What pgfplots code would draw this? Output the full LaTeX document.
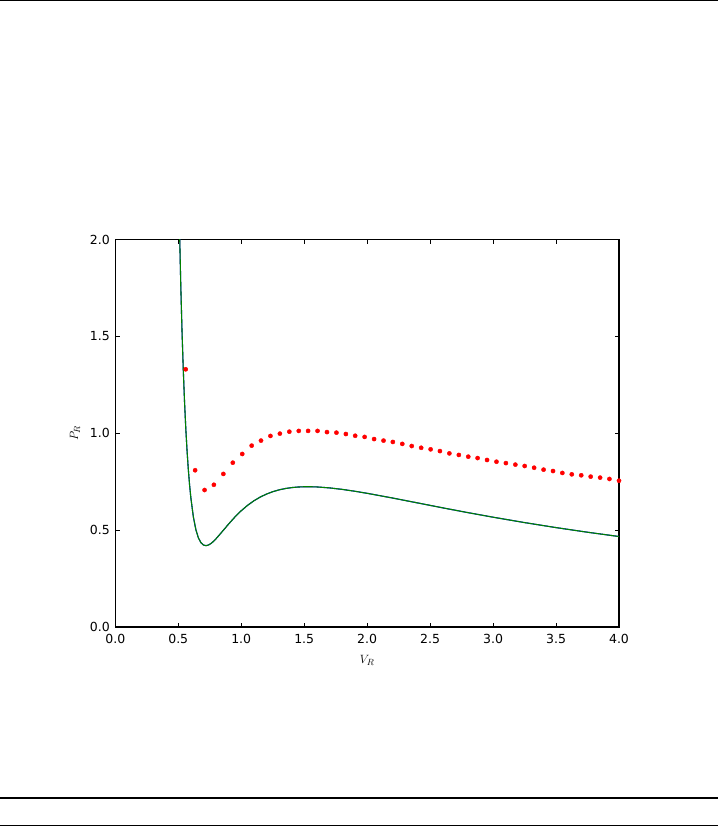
\documentclass[border=0pt]{standalone}
\usepackage{fontspec}
\setmainfont{DejaVu Sans}
\usepackage{pgfplots}
\pgfplotsset{compat=1.18}
\definecolor{mplblue}{rgb}{0,0,1}
\definecolor{mplgreen}{rgb}{0,0.5,0}
\definecolor{mplred}{rgb}{1,0,0}
\begin{document}
\begin{tikzpicture}[x=1pt,y=1pt]
\useasboundingbox (0,0) rectangle (718,827);
\draw[line width=1.2pt] (0,826.4) -- (718,826.4);
\draw[line width=1.2pt] (0,29) -- (718,29);
\draw[line width=1.2pt] (0,1.2) -- (718,1.2);
\begin{axis}[
  at={(115.3pt,200pt)}, anchor=south west,
  scale only axis, width=503.7pt, height=387.5pt,
  xmin=0, xmax=4, ymin=0, ymax=2,
  xtick={0,0.5,...,4}, ytick={0,0.5,...,2},
  tick align=inside, major tick length=4.4pt,
  tick style={line width=0.9pt, black},
  axis line style={line width=1.1pt},
  every axis plot post/.append style={line join=round},
  /pgf/number format/.cd, fixed, fixed zerofill, precision=1, assume math mode=true,
  /pgfplots/.cd,
  tick label style={font=\fontsize{12.5}{14}\selectfont},
  xticklabel style={yshift=-4pt},
  yticklabel style={xshift=-2pt},
  xlabel={$V_R$}, ylabel={$P_R$},
  label style={font=\fontsize{13}{15}\selectfont},
  xlabel style={yshift=-4pt},
  ylabel style={yshift=3pt},
  clip=true,
]
\addplot[mplblue, line width=1.1pt] coordinates {
(0.50,2.400)(0.51,2.0509)(0.52,1.7624)(0.53,1.5234)(0.54,1.3248)(0.55,1.1595)(0.56,1.0219)(0.57,0.9072)(0.58,0.8117)(0.59,0.7324)(0.60,0.6667)(0.62,0.5677)(0.64,0.5019)(0.66,0.4598)(0.68,0.4352)(0.70,0.4231)(0.72,0.4199)(0.74,0.4231)(0.76,0.4311)(0.78,0.4421)(0.80,0.4554)(0.85,0.4930)(0.90,0.5316)(0.95,0.5678)(1.00,0.6000)(1.05,0.6277)(1.10,0.6511)(1.15,0.6704)(1.20,0.6859)(1.25,0.6982)(1.30,0.7077)(1.35,0.7146)(1.40,0.7194)(1.45,0.7224)(1.50,0.7238)(1.55,0.7239)(1.60,0.7229)(1.70,0.7180)(1.80,0.7104)(1.90,0.7009)(2.00,0.6900)(2.20,0.6659)(2.40,0.6405)(2.60,0.6150)(2.80,0.5903)(3.00,0.5667)(3.25,0.5389)(3.50,0.5130)(3.75,0.4891)(4.00,0.4670)
};
\addplot[mplgreen, line width=1.1pt] coordinates {
(0.50,2.400)(0.51,2.0509)(0.52,1.7624)(0.53,1.5234)(0.54,1.3248)(0.55,1.1595)(0.56,1.0219)(0.57,0.9072)(0.58,0.8117)(0.59,0.7324)(0.60,0.6667)(0.62,0.5677)(0.64,0.5019)(0.66,0.4598)(0.68,0.4352)(0.70,0.4231)(0.72,0.4199)(0.74,0.4231)(0.76,0.4311)(0.78,0.4421)(0.80,0.4554)(0.85,0.4930)(0.90,0.5316)(0.95,0.5678)(1.00,0.6000)(1.05,0.6277)(1.10,0.6511)(1.15,0.6704)(1.20,0.6859)(1.25,0.6982)(1.30,0.7077)(1.35,0.7146)(1.40,0.7194)(1.45,0.7224)(1.50,0.7238)(1.55,0.7239)(1.60,0.7229)(1.70,0.7180)(1.80,0.7104)(1.90,0.7009)(2.00,0.6900)(2.20,0.6659)(2.40,0.6405)(2.60,0.6150)(2.80,0.5903)(3.00,0.5667)(3.25,0.5389)(3.50,0.5130)(3.75,0.4891)(4.00,0.4670)
};
\addplot[only marks, mark=*, mark size=2.1pt, mplred, mark options={draw=none, fill=mplred}] coordinates {
(0.559,1.330)(0.634,0.809)(0.709,0.707)(0.783,0.734)(0.858,0.790)(0.933,0.848)(1.008,0.893)(1.083,0.936)(1.157,0.962)(1.232,0.986)(1.307,0.998)(1.382,1.008)(1.457,1.012)(1.531,1.012)(1.606,1.012)(1.681,1.006)(1.756,1.003)(1.831,0.996)(1.905,0.987)(1.980,0.981)(2.055,0.970)(2.130,0.962)(2.204,0.955)(2.279,0.945)(2.354,0.934)(2.429,0.925)(2.504,0.917)(2.578,0.908)(2.653,0.896)(2.728,0.888)(2.803,0.879)(2.877,0.872)(2.952,0.862)(3.027,0.853)(3.102,0.846)(3.177,0.838)(3.251,0.831)(3.326,0.822)(3.401,0.812)(3.476,0.805)(3.550,0.795)(3.625,0.788)(3.700,0.783)(3.775,0.776)(3.850,0.771)(3.924,0.764)(4.000,0.755)
};
\end{axis}
\end{tikzpicture}
\end{document}
